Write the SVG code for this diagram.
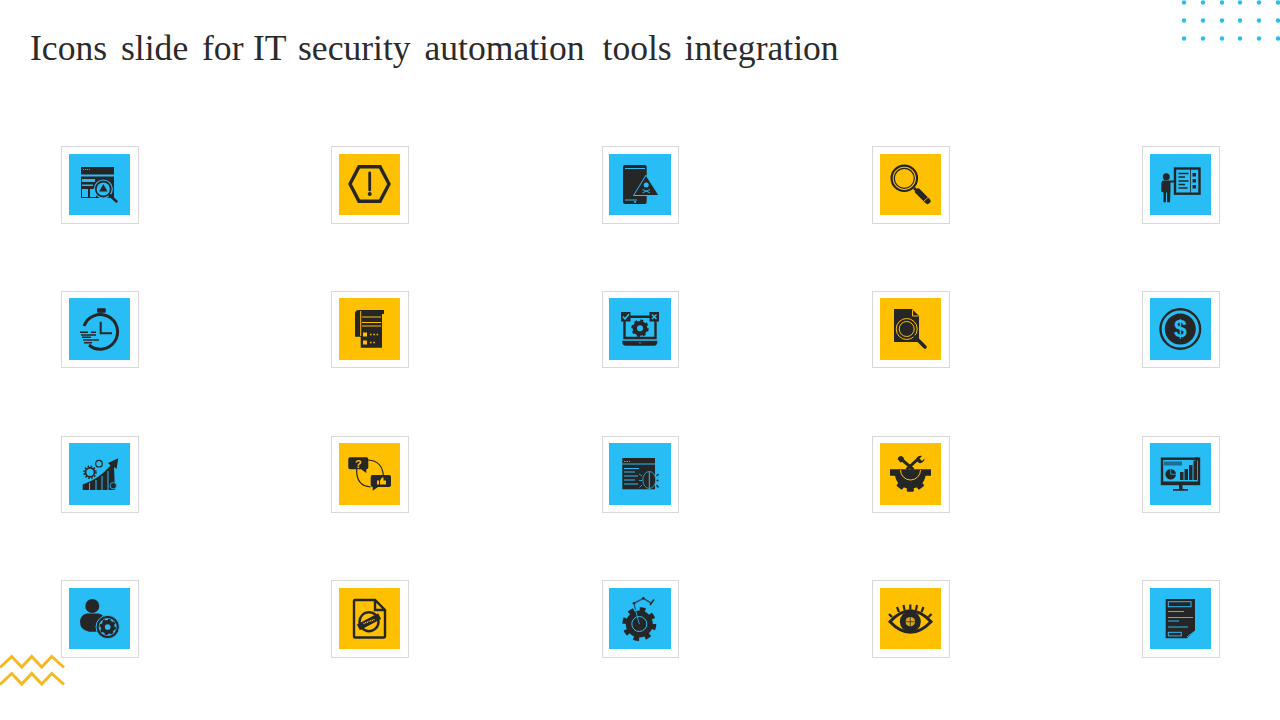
<svg xmlns="http://www.w3.org/2000/svg" width="1280" height="720" viewBox="0 0 1280 720">
<style>
.fr{fill:#fff;stroke:#d9d9d9;stroke-width:1}
.bl{fill:#29bdf5}.ye{fill:#ffc000}
.d{fill:#262626}.n{fill:none;stroke:#262626;stroke-width:2.400}
.lb{fill:none;stroke:#29bdf5;stroke-width:1}.ly{fill:none;stroke:#ffc000;stroke-width:1}
.fb{fill:#29bdf5}.fy{fill:#ffc000}
.dot{fill:#29bdf0}
.zz{fill:none;stroke:#f5b922;stroke-width:3}
.t{font-family:"Liberation Serif","Times New Roman",serif;font-size:35.600px;fill:#2b2b2b}
.g{font-family:"Liberation Sans",Arial,sans-serif;font-weight:700;text-anchor:middle}
</style>
<defs>
<g id="gear"><circle r="5.200" fill="none" stroke="#262626" stroke-width="4.400"/><circle r="7.400" fill="none" stroke="#262626" stroke-width="2.600" stroke-dasharray="2.900 2.910"/></g>
</defs>
<rect width="1280" height="720" fill="#fff"/>
<text class="t" y="60"><tspan x="30">Icons</tspan> <tspan x="121">slide</tspan> <tspan x="202">for</tspan> <tspan x="253">IT</tspan> <tspan x="298">security</tspan> <tspan x="424.500">automation</tspan> <tspan x="602.500">tools</tspan> <tspan x="684.500">integration</tspan></text>
<g id="dots">
<g id="dots-r1"><circle class="dot" cx="1184" cy="2.500" r="2.200"/><circle class="dot" cx="1203" cy="2.500" r="2.200"/><circle class="dot" cx="1222" cy="2.500" r="2.200"/><circle class="dot" cx="1240" cy="2.500" r="2.200"/><circle class="dot" cx="1259" cy="2.500" r="2.200"/><circle class="dot" cx="1278" cy="2.500" r="2.200"/></g>
<g id="dots-r2"><circle class="dot" cx="1184" cy="20.500" r="2.200"/><circle class="dot" cx="1203" cy="20.500" r="2.200"/><circle class="dot" cx="1222" cy="20.500" r="2.200"/><circle class="dot" cx="1240" cy="20.500" r="2.200"/><circle class="dot" cx="1259" cy="20.500" r="2.200"/><circle class="dot" cx="1278" cy="20.500" r="2.200"/></g>
<g id="dots-r3"><circle class="dot" cx="1184" cy="38.500" r="2.200"/><circle class="dot" cx="1203" cy="38.500" r="2.200"/><circle class="dot" cx="1222" cy="38.500" r="2.200"/><circle class="dot" cx="1240" cy="38.500" r="2.200"/><circle class="dot" cx="1259" cy="38.500" r="2.200"/><circle class="dot" cx="1278" cy="38.500" r="2.200"/></g>
</g>
<g id="connectors"></g>

<g id="n1"><rect class="fr" x="61.500" y="146.500" width="77" height="77"/><g transform="translate(69,154)"><rect class="bl" width="61" height="61"/>
<rect class="d" x="12" y="13" width="33" height="31"/><path d="M14 15.500h7" stroke="#29bdf5" stroke-dasharray="1 1"/><path stroke="#29bdf5" stroke-width="2.200" d="M12 21.500H45"/>
<path class="fb" d="M13 25h13v3H13zM13 30.500h11v1.500H13zM13 35h6v8h-6zM21 35h6v8h-6z"/>
<circle cx="34.300" cy="35" r="9" class="d" stroke="#29bdf5" stroke-width="1.200"/><circle cx="34.300" cy="35" r="6.600" class="fb"/><path class="d" d="M34.300 30l4.200 7.500h-8.400z"/>
<path d="M40.500 41L47.500 47.500" stroke="#262626" stroke-width="2.400" stroke-linecap="round"/></g></g>

<g id="n2"><rect class="fr" x="331.500" y="146.500" width="77" height="77"/><g transform="translate(339,154)"><rect class="ye" width="61" height="61"/>
<path d="M11 30L20 12.700H41L50 30L41 47.300H20Z" fill="none" stroke="#262626" stroke-width="3.400"/>
<path d="M30.700 19V36" stroke="#262626" stroke-width="2.800" stroke-linecap="round"/><circle class="d" cx="30.700" cy="40" r="2"/></g></g>

<g id="n3"><rect class="fr" x="602.500" y="146.500" width="76" height="77"/><g transform="translate(609,154)"><rect class="bl" width="62" height="61"/>
<rect class="d" x="14" y="11" width="23.700" height="39" rx="2"/><path class="lb" stroke-width=".8" d="M16 14.500H36M16 46H28"/><circle class="fb" cx="26" cy="48" r="1"/>
<path d="M37 21.200L50 41.500H24.500Z" class="d" stroke="#29bdf5" stroke-width="1"/><circle class="fb" cx="37.200" cy="31" r="2.500"/><path stroke="#29bdf5" stroke-width=".9" d="M33.500 35.500L41 38.800M41 35.500L33.500 38.800"/></g></g>

<g id="n4"><rect class="fr" x="872.500" y="146.500" width="77" height="77"/><g transform="translate(880,154)"><rect class="ye" width="61" height="61"/>
<circle cx="24.300" cy="24.300" r="12.700" fill="none" stroke="#262626" stroke-width="2.200"/><circle cx="24.300" cy="24.300" r="10" fill="none" stroke="#262626" stroke-width="1.200"/>
<path d="M34 34L38 38" stroke="#262626" stroke-width="2.500"/><path d="M38 37.500L47.500 47" stroke="#262626" stroke-width="6" stroke-linecap="round"/><path d="M44 47L48.500 43" stroke="#ffc000" stroke-width=".8"/></g></g>

<g id="n5"><rect class="fr" x="1142.500" y="146.500" width="77" height="77"/><g transform="translate(1150,154)"><rect class="bl" width="61" height="61"/>
<rect class="n" x="25" y="14.500" width="24.500" height="25.200"/><path d="M40.500 15V39" stroke="#262626" stroke-width=".8"/>
<path d="M28.500 19.500h10M28.500 23h6.500M28.500 27h10M28.500 30.500h6.500M28.500 34h9" stroke="#262626" stroke-width="1.700"/><path class="d" d="M42.500 19h3.500v3.500h-3.500zM42.500 25h3.500v3.500h-3.500zM42.500 31h3.500v3.500h-3.500z"/>
<circle class="d" cx="16.300" cy="22.700" r="3.500"/><path class="d" d="M12.500 26.500H19L26 26.500V28.500H20.500V37L20 48.300H17V38.500H16V48.300H13.500V38.500L11.300 37.500V28.500Z"/></g></g>

<g id="n6"><rect class="fr" x="61.500" y="291.500" width="77" height="76"/><g transform="translate(69,298)"><rect class="bl" width="61" height="62"/>
<path d="M15 28A17.300 17.300 0 1 1 20 47" fill="none" stroke="#262626" stroke-width="3"/><rect class="d" x="28" y="10.300" width="8.700" height="4.400" rx="1"/><path d="M32.300 14.700V17" stroke="#262626" stroke-width="2.200"/>
<path d="M31.700 23.700V35.300H43" fill="none" stroke="#262626" stroke-width="2"/>
<path d="M11 34.300h8M22 34.300h5M12 37h15M13 39.300h9M14 42h16M15 44.700h8" stroke="#262626" stroke-width="1.500"/></g></g>

<g id="n7"><rect class="fr" x="331.500" y="291.500" width="77" height="76"/><g transform="translate(339,298)"><rect class="ye" width="61" height="62"/>
<path class="d" d="M16 38.700V16Q16 12 20 12H45V16H43V49.700H21.700V38.700Z"/><path class="ly" d="M21.700 13V38M23 19H42M23 24.500H42M23 28H42"/>
<path class="fy" d="M24 34.500h4v4h-4zM24 42.500h4v4h-4z"/><path d="M31 36.500h9M31 44.500h5" stroke="#ffc000" stroke-width="1.400" stroke-dasharray="1.500 1.800"/></g></g>

<g id="n8"><rect class="fr" x="602.500" y="291.500" width="76" height="76"/><g transform="translate(609,298)"><rect class="bl" width="62" height="62"/>
<path class="n" d="M15.500 23V40H46.500V23M21 18.700H41"/><rect class="d" x="12" y="14" width="9.500" height="9.500"/><rect class="d" x="40.500" y="14" width="9.500" height="9.500"/>
<path d="M14 18.500L16 21L20 16" fill="none" stroke="#29bdf5" stroke-width="1.500"/><path d="M43 16.500L47.500 21M47.500 16.500L43 21" stroke="#29bdf5" stroke-width="1.500"/>
<use href="#gear" transform="translate(31,30.300)"/><path class="d" d="M13.300 42.700H48.300V44Q48.300 47.700 45 47.700H17Q13.300 47.700 13.300 44Z"/><circle class="fb" cx="31" cy="45" r=".7"/></g></g>

<g id="n9"><rect class="fr" x="872.500" y="291.500" width="77" height="76"/><g transform="translate(880,298)"><rect class="ye" width="61" height="62"/>
<path class="d" d="M14 11H32L39 18V44H14Z"/><path class="ly" d="M32.500 12V18H38.500"/><circle cx="26.700" cy="31" r="7.500" class="ly"/><circle cx="26.700" cy="31" r="10.500" class="ly"/>
<path d="M35 39L45 49" stroke="#262626" stroke-width="3.600" stroke-linecap="round"/></g></g>

<g id="n10"><rect class="fr" x="1142.500" y="291.500" width="77" height="76"/><g transform="translate(1150,298)"><rect class="bl" width="61" height="62"/>
<circle class="n" cx="30.300" cy="31" r="19.800"/><circle class="d" cx="30.300" cy="31" r="15.500"/>
<text class="g" x="30.300" y="39" font-size="23" fill="#29bdf5">$</text></g></g>

<g id="n11"><rect class="fr" x="61.500" y="436.500" width="77" height="76"/><g transform="translate(69,443)"><rect class="bl" width="61" height="62"/>
<path class="d" d="M13.700 47V41.500Q30 36 41.500 22.500L39 20L49.300 15.300L47.500 26L45 24L46 47Z"/><path class="lb" stroke-width=".8" d="M20.500 47V40M27 47V37M33 47V33M39 47V28"/>
<circle cx="21" cy="29.300" r="4.500" fill="none" stroke="#262626" stroke-width="1.800"/><circle cx="21" cy="29.300" r="6" fill="none" stroke="#262626" stroke-width="1.600" stroke-dasharray="1.500 1.640"/>
<circle cx="30" cy="20.700" r="3.300" fill="none" stroke="#262626" stroke-width="1.200"/><circle cx="44.300" cy="42.700" r="3.200" class="d" stroke="#29bdf5" stroke-width=".8"/></g></g>

<g id="n12"><rect class="fr" x="331.500" y="436.500" width="77" height="76"/><g transform="translate(339,443)"><rect class="ye" width="61" height="62"/>
<path class="d" d="M11 14.300H27.300Q29.300 14.300 29.300 16.300V24.300Q29.300 26.300 27.300 26.300V30L22 26.300H11Q9.300 26.300 9.300 24.300V16.300Q9.300 14.300 11 14.300Z"/>
<text class="g" x="19.300" y="25" font-size="11" fill="#ffc000">?</text>
<path class="d" d="M33.700 32H50Q52 32 52 34V42Q52 44 50 44H39L33.700 47.700V44Q31.700 44 31.700 42V34Q31.700 32 33.700 32Z"/><path class="fy" d="M38 37.500h2v4h-2zM41 37.500l2-3h1.500v3H47v4h-6z"/>
<path d="M29.300 17Q43 18 44.300 32M17.700 26.300Q17 43 31.700 44" fill="none" stroke="#262626" stroke-width="1.200"/></g></g>

<g id="n13"><rect class="fr" x="602.500" y="436.500" width="76" height="76"/><g transform="translate(609,443)"><rect class="bl" width="62" height="62"/>
<rect class="d" x="13.300" y="15" width="32.700" height="31.300"/><path d="M15 18.500h6" stroke="#29bdf5" stroke-width="1" stroke-dasharray="1.500 1"/><path class="lb" stroke-width=".7" d="M13.300 21H46M15 25.500H30M15 29H26M15 33H29M15 37H26M15 41H29"/>
<ellipse cx="40.300" cy="37" rx="6.500" ry="8.500" class="d" stroke="#29bdf5" stroke-width=".8"/><path d="M33 33L30 31M33 37.500H30M33 42L30.500 44.500" stroke="#29bdf5" stroke-width=".8"/><path d="M47.500 33L49.500 31M47.500 37.500H49.500M47.500 42L49.500 44.500" stroke="#262626" stroke-width="1.400"/><path class="lb" stroke-width=".7" d="M40.300 29V45.500"/></g></g>

<g id="n14"><rect class="fr" x="872.500" y="436.500" width="77" height="76"/><g transform="translate(880,443)"><rect class="ye" width="61" height="62"/>
<path class="d" d="M10 26.300H51V32.700H45.600A15.500 15.500 0 0 1 15 32.700H10Z"/><g class="d"><rect x="26.800" y="40" width="7" height="8.700" rx="1"/><rect x="26.800" y="40" width="7" height="8.700" rx="1" transform="rotate(38 30.300 30.300)"/><rect x="26.800" y="40" width="7" height="8.700" rx="1" transform="rotate(-38 30.300 30.300)"/></g>
<path d="M20.500 27A10 10 0 0 0 40.500 27" class="ly"/><path d="M21 16L33.300 26.300" stroke="#262626" stroke-width="3"/><path d="M17.500 16L19 13.500L21.500 13L24 15L23.500 18L20.500 19.500Z" class="d"/>
<path d="M26.700 26.300L38 16" stroke="#262626" stroke-width="3"/><path d="M36 17A4.500 4.500 0 0 1 42 13L39.500 15.500L42 18L44.500 15.500A4.500 4.500 0 0 1 39 20Z" class="d"/></g></g>

<g id="n15"><rect class="fr" x="1142.500" y="436.500" width="77" height="76"/><g transform="translate(1150,443)"><rect class="bl" width="61" height="62"/>
<rect x="12" y="15.700" width="37" height="25.300" fill="none" stroke="#262626" stroke-width="2.400"/><path class="d" d="M29 42H32.500V46H38V47.700H23V46H29Z"/><rect class="d" x="13" y="38.500" width="35" height="3"/>
<rect x="14" y="18.500" width="18" height="4" fill="#1c6f92"/><circle class="d" cx="20.700" cy="31.300" r="5.300"/><path d="M20.700 31.300V26M20.700 31.300H26" stroke="#29bdf5" stroke-width=".7" fill="none"/>
<path class="d" d="M30 29h3.500v8H30zM34.500 26h3.500v11h-3.500zM39 22h3.500v15H39zM43.500 17.500H47V37h-3.500zM45.500 14h2v4h-2z"/></g></g>

<g id="n16"><rect class="fr" x="61.500" y="580.500" width="77" height="77"/><g transform="translate(69,588)"><rect class="bl" width="61" height="61"/>
<circle class="d" cx="23.300" cy="18" r="7"/><path class="d" d="M18 25.500H29Q34 26 35 30V43.700H20Q11 42 11 34Q11 27 18 25.500Z"/>
<circle class="d" cx="38.700" cy="39" r="11.700" stroke="#29bdf5" stroke-width="1"/><circle cx="38.700" cy="39" r="9" fill="#29bdf5"/><use href="#gear" transform="translate(38.700,39) scale(.95)"/></g></g>

<g id="n17"><rect class="fr" x="331.500" y="580.500" width="77" height="77"/><g transform="translate(339,588)"><rect class="ye" width="61" height="61"/>
<path class="n" stroke-width="1.800" d="M16 12H36L46 22V48Q46 49.500 44.500 49.500H16Q15 49.500 15 48V13Q15 12 16 12ZM36 12V22H46"/>
<circle class="n" cx="30" cy="33.700" r="9.500"/><rect class="d" x="18" y="30.500" width="24" height="6.400" transform="rotate(-28 30 33.700)"/><path d="M24.500 35.500L35.500 31.500" stroke="#ffc000" stroke-width="1.500" stroke-dasharray="1 .8"/></g></g>

<g id="n18"><rect class="fr" x="602.500" y="580.500" width="76" height="77"/><g transform="translate(609,588)"><rect class="bl" width="62" height="61"/>
<circle class="d" cx="30.300" cy="36" r="13.500"/><circle cx="30.300" cy="36" r="14.500" fill="none" stroke="#262626" stroke-width="5" stroke-dasharray="5.500 5.890"/><circle cx="30.300" cy="36" r="7.500" class="lb" stroke-width=".8"/>
<path d="M25 15.300L34.300 10.300L42.700 15.300" fill="none" stroke="#1d4f6a" stroke-width="1.400"/><path d="M25 15.300L26.500 22" stroke="#1d4f6a" stroke-width="1.200"/><path d="M26.500 22L30.300 36" stroke="#29bdf5" stroke-width=".8"/><path d="M41 17L45 11.500" stroke="#262626" stroke-width="1.400"/><circle cx="34.300" cy="10.300" r="1.300" class="d"/><circle cx="25" cy="15.300" r="1.300" class="d"/></g></g>

<g id="n19"><rect class="fr" x="872.500" y="580.500" width="77" height="77"/><g transform="translate(880,588)"><rect class="ye" width="61" height="61"/>
<path d="M10 33.700Q30.300 12 51 33.700Q30.300 55 10 33.700Z" fill="none" stroke="#262626" stroke-width="3"/><circle cx="30.300" cy="33.700" r="10.500" class="d"/><circle cx="30.300" cy="33.700" r="4.800" fill="#d9a514"/><path d="M30.300 28V39.500M24.500 33.700H36" stroke="#262626" stroke-width=".7"/>
<path d="M30.300 16.500V21.500M23.500 17L24.500 22M37 17L36 22M17 19L19 24M43.500 19L41.500 24M9 26L12 29M51.500 26L48.500 29" stroke="#262626" stroke-width="2.200"/></g></g>

<g id="n20"><rect class="fr" x="1142.500" y="580.500" width="77" height="77"/><g transform="translate(1150,588)"><rect class="bl" width="61" height="61"/>
<path class="d" d="M15.700 11H45V43L37 50.300H15.700Z"/><rect class="lb" x="18.300" y="13.700" width="22.700" height="5" stroke-width=".8"/><rect class="lb" x="18.300" y="44.300" width="13" height="3.600" stroke-width=".8"/>
<path class="lb" stroke-width=".8" d="M18 23.500H34M18 29.500H43M18 33H29M18 39H38M37 49L45 43"/></g></g>

<g id="zigzag"><path class="zz" d="M0 667.500L11.700 656.500L21.700 667L31.700 656.500L41.700 667L51.700 656.500L64 667.500"/><path class="zz" d="M0 684.500L11.700 673.500L21.700 684L31.700 673.500L41.700 684L51.700 673.500L64 684.500"/></g>
</svg>
